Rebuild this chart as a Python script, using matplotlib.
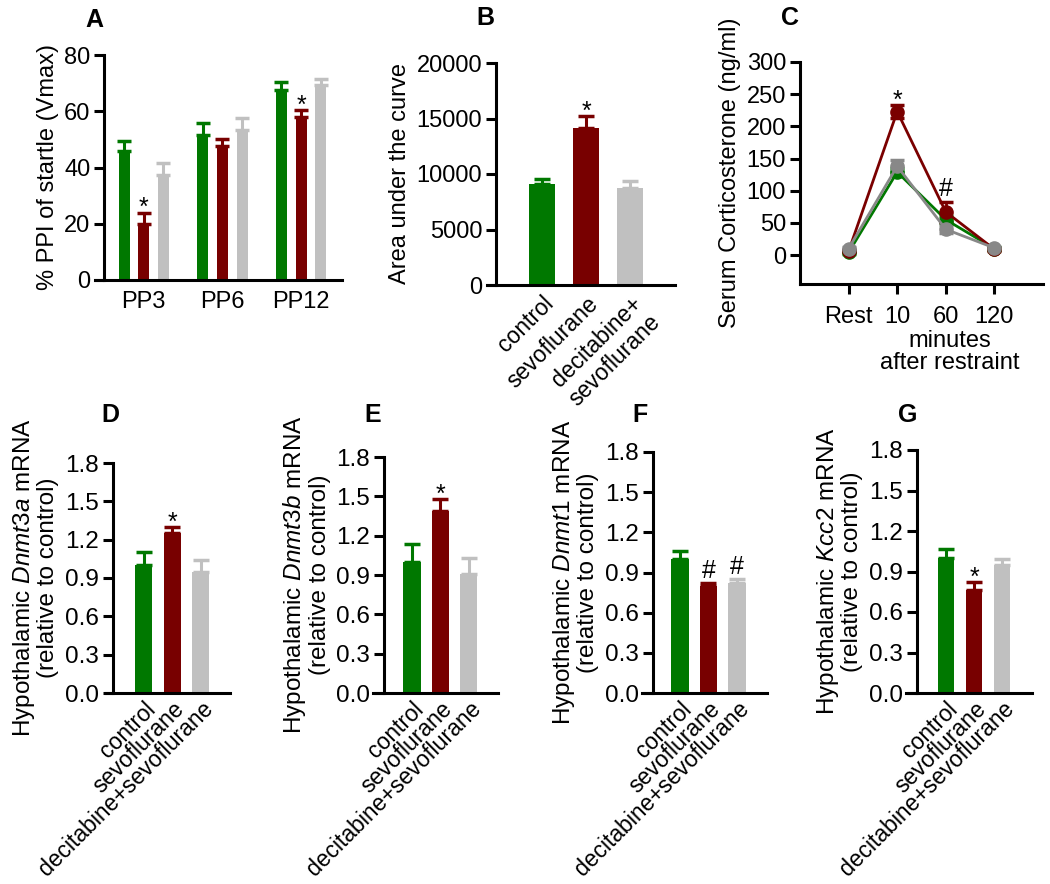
import numpy as np
import matplotlib
matplotlib.use("Agg")
import matplotlib.pyplot as plt

plt.rcParams['font.family'] = ['Liberation Sans', 'DejaVu Sans']
plt.rcParams['mathtext.fontset'] = 'custom'
plt.rcParams['mathtext.rm'] = 'Liberation Sans'
plt.rcParams['mathtext.it'] = 'Liberation Sans:italic'
plt.rcParams['font.size'] = 17

# ---------------- data ----------------
groups = ["control", "sevoflurane", "decitabine+sevoflurane"]
colors = ["#007800", "#780000", "#C0C0C0"]

# Panel A: % PPI
ppi_levels = ["PP3", "PP6", "PP12"]
ppi_mean = {"control": [46, 51.5, 67.5], "sevoflurane": [20, 47.5, 58], "decitabine+sevoflurane": [37.5, 53.5, 69.5]}
ppi_err = {"control": [3.5, 4.5, 3.0], "sevoflurane": [4.0, 2.5, 2.5], "decitabine+sevoflurane": [4.0, 4.0, 2.0]}
ppi_marks = [("sevoflurane", 0, "*"), ("sevoflurane", 2, "*")]

# Panel B: AUC
auc_labels = ["control", "sevoflurane", "decitabine+\nsevoflurane"]
auc_mean = [9100, 14100, 8750]
auc_err = [450, 1150, 650]
auc_marks = [(1, "*")]

# Panel C: corticosterone time course
time_labels = ["Rest", "10", "60", "120"]
cort_mean = {"control": [4, 129, 55, 10], "sevoflurane": [6, 223, 67, 9], "decitabine+sevoflurane": [10, 138, 40, 11]}
cort_err = {"control": [2, 6, 5, 2], "sevoflurane": [2, 10, 15, 2], "decitabine+sevoflurane": [2, 9, 6, 2]}
cort_marks = [(1, 233, "*"), (2, 83, "#")]

# Panels D-G: mRNA
mrna_genes = ["Dnmt3a", "Dnmt3b", "Dnmt1", "Kcc2"]
mrna_mean = {"Dnmt3a": [1.0, 1.25, 0.95], "Dnmt3b": [1.0, 1.39, 0.91], "Dnmt1": [1.0, 0.80, 0.82], "Kcc2": [1.0, 0.76, 0.95]}
mrna_err = {"Dnmt3a": [0.10, 0.05, 0.09], "Dnmt3b": [0.14, 0.09, 0.12], "Dnmt1": [0.06, 0.02, 0.03], "Kcc2": [0.07, 0.06, 0.04]}
mrna_marks = {"Dnmt3a": [(1, "*")], "Dnmt3b": [(1, "*")], "Dnmt1": [(1, "#"), (2, "#")], "Kcc2": [(1, "*")]}

W, H = 1050, 884
fig = plt.figure(figsize=(W / 100, H / 100), dpi=100)
FS = 17
FS2 = 17.5
FSX = 16.5


def add_ax(left, right, top, bottom):
    return fig.add_axes([left / W, 1 - bottom / H, (right - left) / W, (bottom - top) / H])


def style(ax, xticks_len=0, fs=FS, fsx=FS):
    for s in ("top", "right"):
        ax.spines[s].set_visible(False)
    for s in ("left", "bottom"):
        ax.spines[s].set_linewidth(2.2)
    ax.tick_params(axis="y", direction="out", length=7, width=2.2, labelsize=fs, pad=3)
    ax.tick_params(axis="x", direction="out", length=xticks_len, width=2.2, labelsize=fsx)


def mark(ax, x, y, s):
    off = -2 if s == "*" else 4
    ax.annotate(s, xy=(x, y), xytext=(0, off), textcoords="offset points",
                ha="center", va="baseline", fontsize=18)


def letter(x, y, s):
    fig.text(x / W, 1 - y / H, s, fontsize=18, fontweight="bold", ha="center", va="center")


# ---------------- Panel A ----------------
axA = add_ax(95, 342, 55, 280)
style(axA)
xA = np.arange(len(ppi_levels))
offs = [-0.25, 0.0, 0.25]
for g, c, o in zip(groups, colors, offs):
    axA.bar(xA + o, ppi_mean[g], width=0.14, color=c, zorder=2)
    axA.errorbar(xA + o, ppi_mean[g], yerr=[np.zeros(3), ppi_err[g]], fmt="none",
                 ecolor=c, elinewidth=2.2, capsize=5, capthick=2.5, zorder=1)
for g, i, s in ppi_marks:
    k = groups.index(g)
    mark(axA, xA[i] + offs[k], ppi_mean[g][i] + ppi_err[g][i], s)
axA.set_xlim(-0.62, 2.52)
axA.set_ylim(0, 80)
axA.set_yticks([0, 20, 40, 60, 80])
axA.spines["left"].set_position(("data", -0.5))
axA.set_xticks(xA)
axA.set_xticklabels(ppi_levels)
axA.tick_params(axis="x", pad=8)
axA.set_ylabel("% PPI of startle (Vmax)", fontsize=FS, labelpad=4)
letter(94, 20, "A")

# ---------------- Panel B ----------------
axB = add_ax(487, 675, 63, 285)
style(axB, fsx=FSX)
xB = np.arange(3)
axB.bar(xB, auc_mean, width=0.6, color=colors, zorder=2)
for i in range(3):
    axB.errorbar(xB[i], auc_mean[i], yerr=[[0], [auc_err[i]]], fmt="none", ecolor=colors[i],
                 elinewidth=2.2, capsize=6, capthick=2.5, zorder=1)
for i, s in auc_marks:
    mark(axB, xB[i], auc_mean[i] + auc_err[i], s)
axB.set_xlim(-1.25, 3.02)
axB.set_ylim(0, 20000)
axB.set_yticks([0, 5000, 10000, 15000, 20000])
axB.spines["left"].set_position(("data", -1.045))
axB.set_xticks(xB)
axB.set_xticklabels(auc_labels, rotation=45, ha="right", rotation_mode="anchor", multialignment="right")
axB.tick_params(axis="x", pad=5)
axB.set_ylabel("Area under the curve", fontsize=FS, labelpad=4)
letter(485, 18, "B")

# ---------------- Panel C ----------------
axC = add_ax(800, 1043, 62, 284)
style(axC, xticks_len=7)
xC = np.arange(len(time_labels))
c_colors = {"control": "#007800", "sevoflurane": "#7A0000", "decitabine+sevoflurane": "#888888"}
for g in ["control", "sevoflurane", "decitabine+sevoflurane"]:
    col = c_colors[g]
    axC.errorbar(xC, cort_mean[g], yerr=cort_err[g], color=col, lw=2, marker="o", markersize=9.5,
                 elinewidth=2, capsize=5, capthick=2.5)
for i, y, s in cort_marks:
    mark(axC, xC[i], y, s)
axC.set_xlim(-1, 4)
axC.set_ylim(-45, 300)
axC.set_yticks([0, 50, 100, 150, 200, 250, 300])
axC.set_xticks(xC)
axC.set_xticklabels(time_labels)
axC.tick_params(axis="x", pad=9)
axC.set_ylabel("Serum Corticosterone (ng/ml)", fontsize=FS, labelpad=4)
axC.text(0.617, -0.205, "minutes\nafter restraint", transform=axC.transAxes, ha="center", va="top",
         fontsize=FS, linespacing=1.0)
letter(790, 18, "C")

# ---------------- Panels D-G ----------------
boxes = [(106, 230, 463, 693, -1.33, 3.02, -1.09, 110, "D"),
         (373, 498, 457, 693, -1.37, 3.02, -0.98, 373, "E"),
         (642, 767, 452, 693, -1.33, 3.05, -0.95, 640, "F"),
         (906, 1032, 450, 693, -1.43, 3.07, -1.04, 908, "G")]
for gene, (l, r, t, b, x0, x1, sp, lx, L) in zip(mrna_genes, boxes):
    ax = add_ax(l, r, t, b)
    style(ax, fs=FS2, fsx=FSX)
    xs = np.arange(3)
    ax.bar(xs, mrna_mean[gene], width=0.6, color=colors, zorder=2)
    for i in range(3):
        ax.errorbar(xs[i], mrna_mean[gene][i], yerr=[[0], [mrna_err[gene][i]]], fmt="none",
                    ecolor=colors[i], elinewidth=2.2, capsize=6, capthick=2.5, zorder=1)
    for i, s in mrna_marks[gene]:
        mark(ax, xs[i], mrna_mean[gene][i] + mrna_err[gene][i], s)
    ax.set_xlim(x0, x1)
    ax.set_ylim(0, 1.8)
    ax.set_yticks([0.0, 0.3, 0.6, 0.9, 1.2, 1.5, 1.8])
    ax.set_yticklabels(["%.1f" % v for v in [0.0, 0.3, 0.6, 0.9, 1.2, 1.5, 1.8]])
    ax.spines["left"].set_position(("data", sp))
    ax.set_xticks(xs)
    ax.set_xticklabels(groups, rotation=45, ha="right", rotation_mode="anchor")
    ax.tick_params(axis="x", pad=3)
    ax.set_ylabel("Hypothalamic $\\it{" + gene + "}$ mRNA\n(relative to control)", fontsize=FS2,
                  labelpad=4, linespacing=1.05)
    letter(lx, 415, L)

fig.savefig("out.png", dpi=100)
